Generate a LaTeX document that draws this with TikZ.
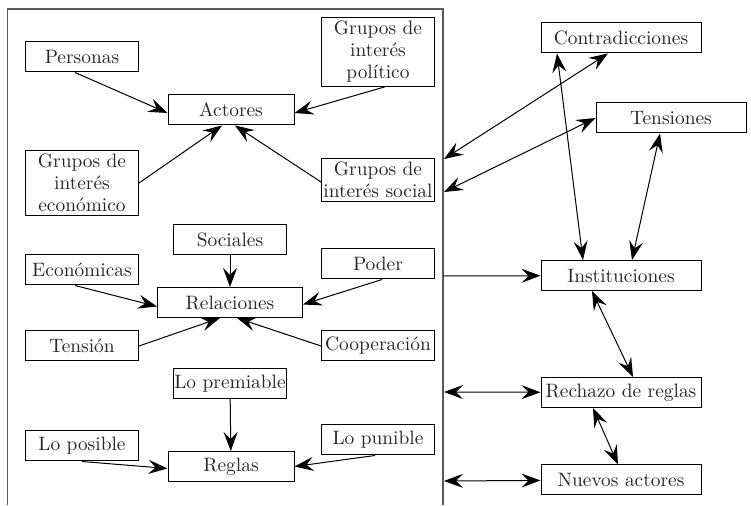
\documentclass[tikz,border=0pt]{standalone}
\usetikzlibrary{arrows.meta}

\begin{document}
\begin{tikzpicture}[x=0.5pt, y=-0.5pt,
  box/.style={draw, align=center, minimum width=56.5pt, minimum height=15pt,
    inner xsep=0.6pt, inner ysep=1.8pt, line width=0.5pt, text=black!85,
    font=\fontsize{9.7}{11}\selectfont},
  arr/.style={-{Stealth[length=9.5pt, width=7pt, inset=3.5pt]}, line width=0.5pt},
  darr/.style={{Stealth[length=9.5pt, width=7pt, inset=3.5pt]}-{Stealth[length=9.5pt, width=7pt, inset=3.5pt]}, line width=0.5pt},
  frame/.style={draw=black!65, line width=0.9pt}]
  \useasboundingbox (0,0) rectangle (751,506);

  % Frame
  \draw[frame] (7.5,505) -- (7.5,9) -- (443,9) -- (443,505);
  \coordinate (f1) at (444,159);
  \coordinate (f2) at (444,192);
  \coordinate (f3) at (443,276);
  \coordinate (f4) at (444,392);
  \coordinate (f5) at (444,481);

  % Nodes
  \node[box] (personas) at (82,57) {Personas};
  \node[box] (politico) at (378,52) {Grupos de\\interés\\político};
  \node[box, minimum width=63pt] (actores) at (231,110) {Actores};
  \node[box] (economico) at (82,183) {Grupos de\\interés\\económico};
  \node[box] (social) at (378,180) {Grupos de\\interés social};

  \node[box] (sociales) at (230,240) {Sociales};
  \node[box] (economicas) at (82,270) {Económicas};
  \node[box] (poder) at (378,264) {Poder};
  \node[box, minimum width=72.5pt] (relaciones) at (230,302.5) {Relaciones};
  \node[box] (tension) at (82,346) {Tensión};
  \node[box] (cooperacion) at (378,346) {Cooperación};

  \node[box] (premiable) at (230,383.5) {Lo premiable};
  \node[box] (posible) at (82,446) {Lo posible};
  \node[box] (punible) at (378,440) {Lo punible};
  \node[box, minimum width=63pt] (reglas) at (231,466.5) {Reglas};

  \node[box, minimum width=80pt] (contra) at (621,38) {Contradicciones};
  \node[box, minimum width=75pt] (tensiones) at (671,118) {Tensiones};
  \node[box, minimum width=80pt] (inst) at (621,275.5) {Instituciones};
  \node[box, minimum width=80pt] (rechazo) at (621,392.5) {Rechazo de reglas};
  \node[box, minimum width=80pt] (nuevos) at (621,480) {Nuevos actores};

  % Arrows
  \draw[arr] ([xshift=-3.5pt]personas.south) -- ([yshift=-1.5pt]actores.west);
  \draw[arr] ([xshift=3.5pt]politico.south) -- ([yshift=-1.5pt]actores.east);
  \draw[arr] (economico.east) -- ([xshift=-4.5pt]actores.south);
  \draw[arr] ([yshift=-1pt]social.west) -- ([xshift=2pt]actores.south);

  \draw[arr] (sociales) -- (relaciones);
  \draw[arr] ([xshift=-3.5pt]economicas.south) -- ([yshift=-2pt]relaciones.west);
  \draw[arr] ([xshift=2pt]poder.south) -- ([yshift=-1pt]relaciones.east);
  \draw[arr] (tension.east) -- ([xshift=-5pt]relaciones.south);
  \draw[arr] (cooperacion.west) -- ([xshift=3.5pt]relaciones.south);

  \draw[arr] (premiable) -- (reglas);
  \draw[arr] (posible.south) -- ([yshift=-1pt]reglas.west);
  \draw[arr] ([xshift=-1.5pt]punible.south) -- (reglas.east);

  \draw[darr] ([xshift=-6.5pt]contra.south) -- (f1);
  \draw[darr] (tensiones.west) -- (f2);
  \draw[darr] ([xshift=-32pt]contra.south) -- ([xshift=-19pt]inst.north);
  \draw[darr] ([xshift=-5.5pt]tensiones.south) -- ([xshift=5.5pt]inst.north);
  \draw[arr] (f3) -- (inst);
  \draw[darr] ([xshift=-14.5pt]inst.south) -- ([xshift=6pt]rechazo.north);
  \draw[darr] (f4) -- (rechazo);
  \draw[darr] ([xshift=-14pt]rechazo.south) -- ([xshift=-1.5pt]nuevos.north);
  \draw[darr] (f5) -- (nuevos);
\end{tikzpicture}
\end{document}
